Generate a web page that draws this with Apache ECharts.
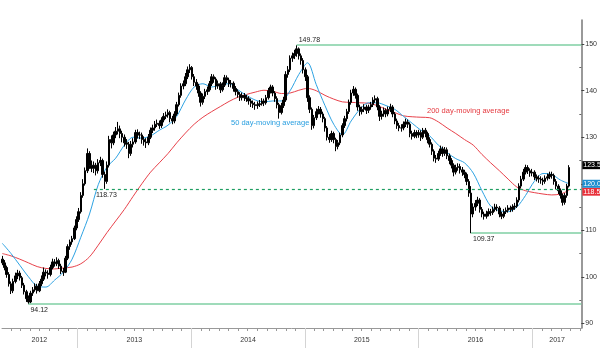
<!DOCTYPE html>
<html><head><meta charset="utf-8">
<script src="https://cdn.jsdelivr.net/npm/echarts@6/dist/echarts.min.js"></script>
<style>html,body{margin:0;padding:0;background:#fff}#c{width:600px;height:355px}</style>
</head><body><div id="c"></div>
<script>
// Weekly bars, first week ending 2012-05-04
const weekStart = Date.UTC(2012, 4, 4);
const openPx = [103.8,103.0,102.0,100.5,98.5,97.0,99.0,100.2,100.8,99.8,
98.2,96.8,95.3,94.6,96.5,97.2,98.0,97.0,98.5,99.5,
101.0,100.8,100.5,102.0,103.2,102.8,103.5,102.3,101.2,101.0,
104.0,106.5,107.5,108.2,110.5,112.3,114.0,117.5,120.0,122.8,
126.5,124.0,123.3,124.0,122.8,124.5,125.0,122.0,120.5,124.0,
129.5,128.8,130.5,131.3,131.8,130.8,130.0,128.8,128.5,126.5,
128.5,129.0,131.0,130.5,130.5,129.5,129.0,128.8,130.0,131.5,
132.0,132.8,133.0,132.5,133.7,134.5,134.8,135.3,134.0,133.5,
135.0,137.0,139.0,141.0,141.5,143.0,144.5,145.0,143.0,141.8,
141.0,139.5,137.5,138.8,139.8,140.2,141.5,143.0,142.5,141.0,
141.5,140.2,141.2,142.8,142.3,141.5,141.6,140.5,139.8,139.2,
138.5,139.0,138.5,138.3,137.8,137.3,137.0,136.8,137.0,137.2,
137.8,137.4,138.5,140.0,140.8,139.5,138.3,137.0,135.3,136.8,
138.0,143.5,144.5,147.0,147.5,148.0,149.0,147.5,146.5,144.5,
143.0,138.5,136.0,132.5,134.2,135.5,136.0,135.0,134.0,132.0,
130.0,129.5,130.8,129.5,128.0,128.8,130.5,132.5,134.0,135.5,
137.5,139.5,140.3,139.0,136.5,135.5,136.0,136.5,135.8,136.5,
137.0,138.0,138.3,136.5,134.5,135.0,135.8,135.0,136.0,136.5,
135.0,133.5,132.5,132.0,132.0,132.8,133.3,132.8,130.8,130.2,
131.0,130.5,131.0,130.0,131.5,130.8,129.5,128.5,127.0,125.5,
125.3,126.5,127.5,126.5,127.3,126.0,125.0,124.0,122.5,123.5,
123.7,123.0,122.5,122.0,120.5,118.0,113.5,115.0,115.8,116.5,
114.5,113.5,113.0,113.5,114.0,113.8,114.5,115.0,114.8,113.5,
113.0,114.0,114.3,114.8,114.5,115.0,115.2,116.5,119.5,121.0,
122.5,123.5,122.8,122.3,122.5,121.5,121.2,121.0,120.8,120.5,
121.2,121.5,122.0,121.8,120.5,119.5,118.5,117.5,116.0,117.5,
119.5];
const closePx = [103.0,102.0,100.5,98.5,97.0,99.0,100.2,100.8,99.8,98.2,
96.8,95.3,94.6,96.5,97.2,98.0,97.0,98.5,99.5,101.0,
100.8,100.5,102.0,103.2,102.8,103.5,102.3,101.2,101.0,104.0,
106.5,107.5,108.2,110.5,112.3,114.0,117.5,120.0,122.8,126.5,
124.0,123.3,124.0,122.8,124.5,125.0,122.0,120.5,124.0,129.5,
128.8,130.5,131.3,131.8,130.8,130.0,128.8,128.5,126.5,128.5,
129.0,131.0,130.5,130.5,129.5,129.0,128.8,130.0,131.5,132.0,
132.8,133.0,132.5,133.7,134.5,134.8,135.3,134.0,133.5,135.0,
137.0,139.0,141.0,141.5,143.0,144.5,145.0,143.0,141.8,141.0,
139.5,137.5,138.8,139.8,140.2,141.5,143.0,142.5,141.0,141.5,
140.2,141.2,142.8,142.3,141.5,141.6,140.5,139.8,139.2,138.5,
139.0,138.5,138.3,137.8,137.3,137.0,136.8,137.0,137.2,137.8,
137.4,138.5,140.0,140.8,139.5,138.3,137.0,135.3,136.8,138.0,
143.5,144.5,147.0,147.5,148.0,149.0,147.5,146.5,144.5,143.0,
138.5,136.0,132.5,134.2,135.5,136.0,135.0,134.0,132.0,130.0,
129.5,130.8,129.5,128.0,128.8,130.5,132.5,134.0,135.5,137.5,
139.5,140.3,139.0,136.5,135.5,136.0,136.5,135.8,136.5,137.0,
138.0,138.3,136.5,134.5,135.0,135.8,135.0,136.0,136.5,135.0,
133.5,132.5,132.0,132.0,132.8,133.3,132.8,130.8,130.2,131.0,
130.5,131.0,130.0,131.5,130.8,129.5,128.5,127.0,125.5,125.3,
126.5,127.5,126.5,127.3,126.0,125.0,124.0,122.5,123.5,123.7,
123.0,122.5,122.0,120.5,118.0,113.5,115.0,115.8,116.5,114.5,
113.5,113.0,113.5,114.0,113.8,114.5,115.0,114.8,113.5,113.0,
114.0,114.3,114.8,114.5,115.0,115.2,116.5,119.5,121.0,122.5,
123.5,122.8,122.3,122.5,121.5,121.2,121.0,120.8,120.5,121.2,
121.5,122.0,121.8,120.5,119.5,118.5,117.5,116.0,117.5,119.5,
123.5];
const lowPx = [102.5,101.4,99.8,97.9,96.3,96.5,98.6,99.5,99.2,97.6,
96.2,94.6,94.12,94.3,95.9,96.8,96.4,96.7,98.0,99.1,
100.1,99.6,100.1,101.6,102.2,102.3,101.7,100.6,100.2,100.8,
103.6,105.8,106.9,107.9,110.0,111.8,113.6,117.0,119.6,122.3,
123.2,122.5,122.3,121.8,122.2,123.8,121.3,118.9,120.0,123.5,
127.6,128.3,129.8,130.6,129.8,128.9,128.0,127.5,125.5,126.0,
127.8,128.6,129.7,129.6,128.6,128.2,127.7,128.3,129.6,130.9,
131.4,132.2,131.8,132.0,133.2,133.9,134.2,133.2,132.8,133.0,
134.6,136.6,138.5,140.3,141.0,142.5,143.8,142.4,141.0,140.2,
138.7,136.6,137.0,138.2,139.1,139.8,141.0,141.7,140.2,140.4,
139.5,139.8,140.8,141.6,140.8,140.7,139.8,139.0,138.5,137.8,
137.9,137.8,137.6,137.0,136.5,136.3,135.9,136.1,136.5,136.8,
136.7,137.0,138.1,139.4,138.8,137.6,136.2,134.0,134.9,136.3,
137.6,142.8,144.0,146.2,146.8,147.3,146.7,145.6,143.7,142.1,
137.6,135.2,131.6,131.9,133.7,134.9,134.2,133.2,131.2,129.3,
128.8,129.0,128.7,127.0,127.4,128.3,130.0,132.0,133.4,135.0,
137.0,138.9,138.3,135.7,134.6,134.9,135.4,135.0,135.2,135.9,
136.5,137.4,135.8,133.5,133.8,134.4,134.3,134.5,135.4,134.3,
132.8,131.8,131.3,131.2,131.5,132.2,132.0,130.0,129.5,129.8,
129.8,129.9,129.2,129.6,130.0,128.7,127.8,126.2,124.8,124.5,
124.9,126.0,125.8,126.0,125.3,124.2,123.3,121.6,122.0,122.8,
122.2,121.7,121.2,119.7,117.2,109.37,112.8,114.2,115.2,113.8,
112.8,112.3,112.5,113.0,113.1,113.3,114.0,114.1,112.8,112.4,
112.6,113.5,113.8,113.9,114.0,114.4,114.8,116.0,119.0,120.6,
122.0,122.1,121.5,121.6,120.8,120.5,120.2,120.0,119.7,120.0,
120.7,121.0,121.1,119.8,118.8,117.8,116.8,115.3,115.5,117.0,
119.2];
const highPx = [104.5,103.6,102.4,101.0,99.0,99.6,100.9,101.5,101.3,100.2,
98.7,97.2,96.0,97.0,97.8,98.6,98.5,99.1,100.3,102.0,
101.6,101.4,102.6,103.9,103.8,104.2,103.9,102.8,101.9,104.5,
107.0,108.0,108.8,111.0,113.0,114.8,118.2,121.0,123.5,127.6,
127.0,125.0,124.8,124.5,125.3,125.8,125.4,122.6,124.8,130.3,
130.4,131.2,132.2,133.3,132.5,131.4,130.6,129.6,129.0,129.2,
129.8,131.6,131.7,131.2,131.0,130.2,129.8,130.7,132.1,132.7,
133.5,133.8,133.6,134.3,135.2,135.5,136.0,135.7,134.6,135.6,
137.6,139.6,141.6,142.2,143.8,145.2,145.7,145.3,143.6,142.5,
141.5,139.9,139.4,140.4,140.9,142.1,143.6,143.5,142.9,142.2,
141.9,141.8,143.4,143.3,142.8,142.3,142.0,141.0,140.3,139.7,
139.6,139.5,139.1,138.8,138.3,137.9,137.6,137.7,138.0,138.4,
138.3,139.1,140.6,141.3,141.2,139.9,138.8,137.4,137.4,138.7,
144.2,145.3,147.6,148.2,148.8,149.78,149.3,148.0,147.0,145.0,
143.4,139.0,136.4,134.8,136.2,136.7,136.5,135.5,134.4,132.4,
130.7,131.4,131.2,129.9,129.4,131.0,133.0,134.6,136.1,138.1,
140.2,141.0,140.7,139.4,137.0,136.6,137.1,137.0,137.0,137.6,
138.6,139.0,138.7,136.9,135.7,136.4,136.2,136.6,137.2,136.9,
135.4,134.0,133.1,132.8,133.4,134.0,133.8,133.2,131.4,131.6,
131.5,131.6,131.5,132.0,132.0,131.2,130.0,128.9,127.4,126.2,
127.1,128.2,128.0,127.9,127.8,126.5,125.5,124.4,124.1,124.4,
124.3,123.6,123.0,122.4,121.0,119.5,115.8,116.5,117.2,116.9,
115.0,114.0,114.2,114.7,114.6,115.1,115.7,115.6,115.2,114.0,
114.6,114.9,115.4,115.3,115.6,115.9,117.1,120.1,121.7,123.2,
124.1,124.0,123.3,123.2,122.9,122.0,121.8,121.6,121.3,121.8,
122.2,122.6,122.6,122.2,121.0,119.9,119.0,117.9,118.0,120.0,
124.0];

// Moving averages, read every 4th week
const maStepWeeks = 4;
const ma50 = [107.2,105.0,102.5,100.0,98.0,97.8,99.3,101.0,103.8,108.5,
113.5,119.8,123.6,125.5,128.3,130.0,129.8,130.3,131.5,132.6,
134.5,138.0,140.8,141.5,140.8,141.3,141.5,140.2,139.0,138.0,
137.6,137.8,137.8,140.0,143.5,146.0,141.3,136.8,132.8,130.5,
133.5,136.0,137.4,137.4,136.8,136.0,134.5,133.0,131.5,130.3,
128.3,126.7,125.4,124.5,122.3,118.5,115.2,114.2,114.0,115.0,
117.5,120.5,122.2,122.0,120.8,120.0];
const ma200 = [105.0,104.5,103.8,103.0,102.2,101.8,101.7,101.9,102.1,102.8,
104.3,106.8,109.5,112.0,114.5,117.3,120.0,122.5,124.5,126.5,
128.8,130.9,132.8,134.3,135.5,136.6,137.7,138.6,139.2,139.7,
140.1,139.9,139.4,139.5,140.1,140.5,140.0,139.0,138.2,137.6,
137.5,137.4,137.3,136.8,136.0,135.3,134.6,134.4,134.3,134.2,
133.3,132.0,130.8,129.5,128.3,126.3,124.5,122.8,121.0,119.3,
118.5,118.1,117.8,117.6,117.8,118.6];

// Horizontal levels
const levelValues = [149.78, 109.37, 94.12];
const levelStartWeeks = [135, 215, 12];
const levelLabelPos = ['insideStartTop', 'insideStartBottom', 'insideStartBottom'];
const pivotValue = 118.73;
const pivotStartWeek = 42;

// Right-edge value tags
const tagLevels = [124.0, 120.0, 118.3];
const tagTexts = ['123.53', '120.03', '118.51'];

// Axis ticks/labels
const yTickValues = [90, 100, 110, 120, 130, 140, 150];
const yLabelValues = [90, 100, 110, 130, 140, 150];
const yMinorValues = [95, 105, 115, 125, 135, 145];
const yearStarts = [Date.UTC(2013,0,1), Date.UTC(2014,0,1), Date.UTC(2015,0,1), Date.UTC(2016,0,1), Date.UTC(2017,0,1)];
const yearLabelDates = [Date.UTC(2012,7,31), Date.UTC(2013,6,2), Date.UTC(2014,6,2), Date.UTC(2015,6,2), Date.UTC(2016,6,1), Date.UTC(2017,2,20)];
const xMin = Date.UTC(2012, 4, 3);
const xMax = Date.UTC(2017, 5, 6);

const DAY = 86400000;
const weekDate = w => weekStart + w * 7 * DAY;
const monthStarts = [];
for (let y = 2012; y <= 2017; y++) for (let m = 0; m < 12; m++) {
  const t = Date.UTC(y, m, 1);
  if (t > xMin && t < xMax) monthStarts.push(t);
}

const bars = closePx.map((c, i) => [weekDate(i), openPx[i], c, lowPx[i], highPx[i]]);
const ma50Data = ma50.map((v, i) => [weekDate(i * maStepWeeks), v]);
const ma200Data = ma200.map((v, i) => [weekDate(i * maStepWeeks), v]);

const FONT = '"Liberation Sans", Arial, sans-serif';
const GREEN = '#7fcfa3';

const lvlLines = levelValues.map((v, i) => [
  { coord: [weekDate(levelStartWeeks[i]), v],
    label: { show: true, position: levelLabelPos[i], formatter: v.toFixed(2), color: '#222', fontSize: 7, fontFamily: FONT, distance: 2 },
    lineStyle: { color: GREEN, width: 1.5, type: 'solid' } },
  { coord: [xMax, v] }
]);
lvlLines.push([
  { coord: [weekDate(pivotStartWeek), pivotValue],
    label: { show: true, position: 'insideStartBottom', formatter: pivotValue.toFixed(2), color: '#222', fontSize: 7, fontFamily: FONT, distance: 2 },
    lineStyle: { color: '#1f9e62', width: 1.2, type: [3, 3] } },
  { coord: [xMax, pivotValue] }
]);

function tag(i, bg) {
  return {
    yAxis: tagLevels[i],
    lineStyle: { color: 'rgba(255,255,255,0)', width: 0.01 },
    label: { show: true, position: 'end', formatter: tagTexts[i], color: '#fff', backgroundColor: bg,
      fontSize: 7, fontFamily: FONT, padding: [1, 1, 0, 1], distance: 1 }
  };
}

const chart = echarts.init(document.getElementById('c'), null, { renderer: 'canvas' });
chart.setOption({
  animation: false,
  backgroundColor: '#fff',
  grid: { left: 2, right: 16, top: 20, bottom: 27 },
  xAxis: [{
    type: 'value', min: xMin, max: xMax,
    axisLine: { show: true, lineStyle: { color: '#999', width: 1 } },
    axisTick: { show: true, customValues: monthStarts, length: 3, lineStyle: { color: '#999' } },
    axisLabel: { customValues: yearLabelDates, formatter: v => String(new Date(v).getUTCFullYear()),
      fontSize: 7, color: '#333', margin: 9, fontFamily: FONT },
    splitLine: { show: false }
  }, {
    type: 'value', min: xMin, max: xMax, position: 'bottom',
    axisLine: { show: false },
    axisTick: { show: true, customValues: yearStarts, length: 20, lineStyle: { color: '#d4d4d4' } },
    axisLabel: { show: false },
    splitLine: { show: false }
  }],
  yAxis: [{
    type: 'value', position: 'right', min: 89, max: 155.2,
    splitLine: { show: false },
    axisLine: { show: true, lineStyle: { color: '#777', width: 1.5 } },
    axisTick: { show: true, customValues: yTickValues, length: 3, lineStyle: { color: '#444' } },
    axisLabel: { customValues: yLabelValues, fontSize: 7, color: '#333', margin: 4, fontFamily: FONT }
  }, {
    type: 'value', position: 'right', min: 89, max: 155.2,
    splitLine: { show: false },
    axisLine: { show: false },
    axisTick: { show: true, customValues: yMinorValues, inside: true, length: 2, lineStyle: { color: '#666' } },
    axisLabel: { show: false }
  }],
  graphic: [
    { type: 'text', left: 231, top: 119, style: { text: '50 day-moving average', fill: '#2a9fe0', font: '7.5px ' + FONT } },
    { type: 'text', left: 427, top: 107, style: { text: '200 day-moving average', fill: '#e5393f', font: '7.5px ' + FONT } }
  ],
  series: [
    {
      type: 'line', name: '200d', data: ma200Data, showSymbol: false, smooth: 0.3,
      lineStyle: { color: '#e8414a', width: 1 }, z: 2,
      markLine: { silent: true, symbol: ['none', 'none'], data: [tag(2, '#e8303a')] }
    },
    {
      type: 'line', name: '50d', data: ma50Data, showSymbol: false, smooth: 0.3,
      lineStyle: { color: '#2ea3e3', width: 1 }, z: 3,
      markLine: { silent: true, symbol: ['none', 'none'], data: [tag(1, '#1e8fd0')] }
    },
    {
      type: 'candlestick', name: 'price', data: bars, barWidth: 2,
      encode: { x: 0, y: [1, 2, 3, 4] },
      itemStyle: { color: '#000', color0: '#000', borderColor: '#000', borderColor0: '#000', borderWidth: 1 },
      z: 4,
      markLine: { silent: true, symbol: ['none', 'none'], data: lvlLines.concat([tag(0, '#000')]) }
    }
  ]
});
</script></body></html>
